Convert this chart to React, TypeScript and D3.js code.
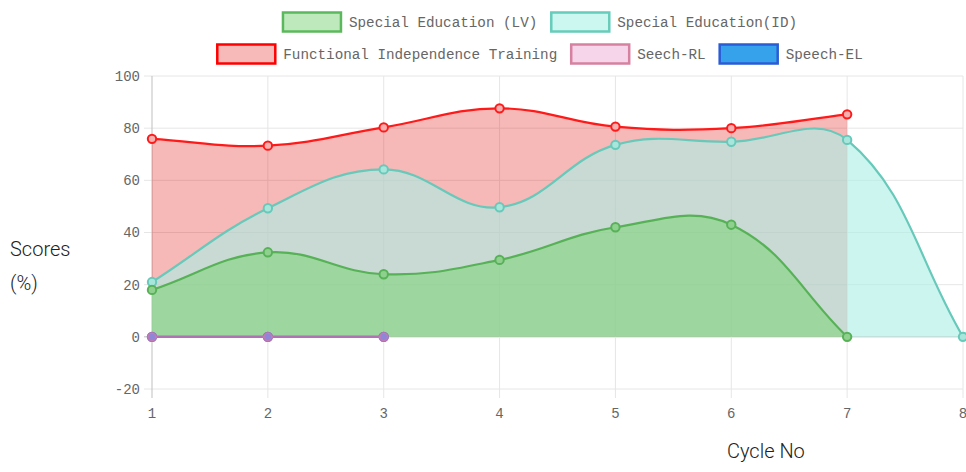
import * as d3 from "d3";

const cycles = [1, 2, 3, 4, 5, 6, 7, 8];
const lvScores = [18, 32.4, 24, 29.5, 42, 43, 0];
const idScores = [21, 49.3, 64.2, 49.7, 73.6, 74.8, 75.5, 0];
const fitScores = [75.9, 73.3, 80.3, 87.6, 80.6, 80, 85.3];
const rlScores = [0, 0, 0];
const elScores = [0, 0, 0];
const yTicks = [-20, 0, 20, 40, 60, 80, 100];

const seriesNames = [
  "Special Education (LV)",
  "Special Education(ID)",
  "Functional Independence Training",
  "Seech-RL",
  "Speech-EL",
];

const W = 966;
const H = 472;
const left = 152;
const right = 963;
const top = 76;
const bottom = 389;

const monoFont = "'Liberation Mono', 'DejaVu Sans Mono', monospace";
const charW = 8.56;

// Chart.js style bezier (tension 0.4), control points kept inside the chart area
function chartCurve(yMin: number, yMax: number) {
  return (context: any) => {
    let pts: number[][] = [];
    let line: number = NaN;
    let inArea = false;
    return {
      areaStart() {
        line = 0;
        inArea = true;
      },
      areaEnd() {
        line = NaN;
        inArea = false;
      },
      lineStart() {
        pts = [];
      },
      point(x: number, y: number) {
        pts.push([+x, +y]);
      },
      lineEnd() {
        const n = pts.length;
        if (!n) return;
        const t = 0.4;
        const cps = pts.map((cur, i) => {
          const prev = pts[Math.max(i - 1, 0)];
          const next = pts[Math.min(i + 1, n - 1)];
          const d01 = Math.hypot(cur[0] - prev[0], cur[1] - prev[1]);
          const d12 = Math.hypot(next[0] - cur[0], next[1] - cur[1]);
          let s01 = d01 / (d01 + d12);
          let s12 = d12 / (d01 + d12);
          if (isNaN(s01)) s01 = 0;
          if (isNaN(s12)) s12 = 0;
          const fa = t * s01;
          const fb = t * s12;
          const clampY = (v: number) => Math.max(yMin, Math.min(yMax, v));
          return {
            p: [cur[0] - fa * (next[0] - prev[0]), clampY(cur[1] - fa * (next[1] - prev[1]))],
            n: [cur[0] + fb * (next[0] - prev[0]), clampY(cur[1] + fb * (next[1] - prev[1]))],
          };
        });
        if (inArea && line === 1) context.lineTo(pts[0][0], pts[0][1]);
        else context.moveTo(pts[0][0], pts[0][1]);
        for (let i = 1; i < n; i++) {
          context.bezierCurveTo(cps[i - 1].n[0], cps[i - 1].n[1], cps[i].p[0], cps[i].p[1], pts[i][0], pts[i][1]);
        }
        if (inArea && line === 1) context.closePath();
        if (inArea) line = 1 - line;
      },
    };
  };
}

const styles = [
  { values: lvScores, stroke: "#57b157", fill: "rgba(121,212,115,0.55)", point: "#8fd08f", legendFill: "#bde9bd", legendStroke: "#5cb85c" },
  { values: idScores, stroke: "#66c9ba", fill: "rgba(173,239,229,0.625)", point: "#a8e6dc", legendFill: "#ccf6f0", legendStroke: "#66ccbb" },
  { values: fitScores, stroke: "#ff1a1a", fill: "rgba(230,20,20,0.3)", point: "#f6b0b0", legendFill: "#f8b9b9", legendStroke: "#ff0000" },
  { values: rlScores, stroke: "rgba(214,120,170,0.75)", fill: "rgba(240,190,225,0.3)", point: "#8f86d8", legendFill: "#f6d4ea", legendStroke: "#d6819f" },
  { values: elScores, stroke: "#3a62d8", fill: "rgba(54,162,235,0.3)", point: "#6f94e6", legendFill: "#36a2eb", legendStroke: "#2a5cd6" },
];

export default function App() {
  const x = d3.scaleLinear().domain([1, 8]).range([left, right]);
  const y = d3.scaleLinear().domain([-20, 100]).range([bottom, top]);
  const curve = chartCurve(top, bottom) as any;

  const area = d3
    .area<number>()
    .x((_, i) => x(cycles[i]))
    .y0(y(0))
    .y1((d) => y(d))
    .curve(curve);
  const line = d3
    .line<number>()
    .x((_, i) => x(cycles[i]))
    .y((d) => y(d))
    .curve(curve);

  const drawOrder = [4, 3, 2, 1, 0];

  // legend layout
  const rows = [[0, 1], [2, 3, 4]];
  const boxW = 58;
  const boxH = 19;
  const legendCenter = 540;
  const legendItems: { idx: number; x: number; y: number }[] = [];
  rows.forEach((row, r) => {
    const widths = row.map((i) => boxW + 8 + seriesNames[i].length * charW);
    const total = d3.sum(widths) + 14 * (row.length - 1);
    let cx = legendCenter - total / 2;
    row.forEach((i, k) => {
      legendItems.push({ idx: i, x: cx, y: r === 0 ? 22 : 54 });
      cx += widths[k] + 14;
    });
  });

  return (
    <svg width={W} height={H} style={{ position: "absolute", left: 0, top: 0, background: "#fff" }}>
      <defs>
        <clipPath id="plot">
          <rect x={left} y={top - 10} width={W - left} height={bottom - top + 10} />
        </clipPath>
      </defs>

      {/* grid */}
      {yTicks.map((t) => (
        <line key={"h" + t} x1={left - 8} x2={right} y1={y(t)} y2={y(t)} stroke={t === 0 ? "#bfbfbf" : "#e6e6e6"} />
      ))}
      {cycles.map((c) => (
        <line key={"v" + c} x1={x(c)} x2={x(c)} y1={top} y2={bottom + 9} stroke={c === 1 ? "#bfbfbf" : "#e6e6e6"} />
      ))}

      {/* tick labels */}
      {yTicks.map((t) => (
        <text key={"yt" + t} x={left - 12} y={y(t)} dy="0.35em" textAnchor="end" fontFamily={monoFont} fontSize={14} fill="#666">
          {t}
        </text>
      ))}
      {cycles.map((c) => (
        <text key={"xt" + c} x={x(c)} y={bottom + 24} dy="0.35em" textAnchor="middle" fontFamily={monoFont} fontSize={14} fill="#666">
          {c}
        </text>
      ))}

      {/* fills */}
      <g clipPath="url(#plot)">
        {drawOrder.map((i) => (
          <path key={"a" + i} d={area(styles[i].values) || ""} fill={styles[i].fill} />
        ))}
      </g>

      {/* lines and points */}
      {drawOrder.map((i) => (
        <g key={"l" + i}>
          <path d={line(styles[i].values) || ""} fill="none" stroke={styles[i].stroke} strokeWidth={2.2} />
          {styles[i].values.map((v, k) => (
            <circle key={k} cx={x(cycles[k])} cy={y(v)} r={4.2} fill={styles[i].point} stroke={styles[i].stroke} strokeWidth={2} />
          ))}
        </g>
      ))}

      {/* legend */}
      {legendItems.map(({ idx, x: lx, y: ly }) => (
        <g key={"lg" + idx}>
          <rect x={lx} y={ly - boxH / 2} width={boxW} height={boxH} fill={styles[idx].legendFill} stroke={styles[idx].legendStroke} strokeWidth={2.5} />
          <text
            x={lx + boxW + 8}
            y={ly}
            dy="0.35em"
            fontFamily={monoFont}
            fontSize={14}
            fill="#666"
            textLength={seriesNames[idx].length * charW}
            lengthAdjust="spacingAndGlyphs"
          >
            {seriesNames[idx]}
          </text>
        </g>
      ))}

      {/* axis titles */}
      <text x={10} y={256} fontFamily="Roboto, sans-serif" fontWeight={300} fontSize={20} fill="#222">
        Scores
      </text>
      <text x={10} y={290} fontFamily="Roboto, sans-serif" fontWeight={300} fontSize={20} fill="#222">
        (%)
      </text>
      <text x={727} y={458} fontFamily="Roboto, sans-serif" fontWeight={300} fontSize={20} fill="#222">
        Cycle No
      </text>
    </svg>
  );
}
